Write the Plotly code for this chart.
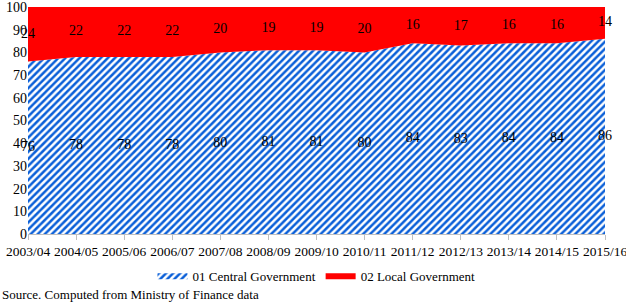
import plotly.graph_objects as go

years = ["2003/04", "2004/05", "2005/06", "2006/07", "2007/08", "2008/09", "2009/10",
         "2010/11", "2011/12", "2012/13", "2013/14", "2014/15", "2015/16"]
central = [76, 78, 78, 78, 80, 81, 81, 80, 84, 83, 84, 84, 86]
local = [24, 22, 22, 22, 20, 19, 19, 20, 16, 17, 16, 16, 14]
yticks = list(range(0, 101, 10))

FONT = "Liberation Serif"
BLUE = "#0a5fd8"
RED = "#ff0000"

fig = go.Figure()
fig.add_trace(go.Scatter(
    x=years, y=central, name="01 Central Government", stackgroup="one",
    mode="none", fillcolor=BLUE,
    fillpattern=dict(shape="/", fgcolor="white", bgcolor=BLUE, fgopacity=1,
                     fillmode="replace", size=5, solidity=0.5),
))
fig.add_trace(go.Scatter(
    x=years, y=local, name="02 Local Government", stackgroup="one",
    mode="none", fillcolor=RED,
))
# data labels at area centres
fig.add_trace(go.Scatter(
    x=years, y=[c / 2 for c in central], text=[str(v) for v in central],
    mode="text", textfont=dict(family=FONT, size=14, color="black"),
    showlegend=False, hoverinfo="skip", cliponaxis=False,
))
fig.add_trace(go.Scatter(
    x=years, y=[c + l / 2 for c, l in zip(central, local)], text=[str(v) for v in local],
    mode="text", textfont=dict(family=FONT, size=14, color="black"),
    showlegend=False, hoverinfo="skip", cliponaxis=False,
))

fig.update_layout(
    width=626, height=302,
    margin=dict(l=28, r=21, t=7, b=68, autoexpand=False),
    paper_bgcolor="white", plot_bgcolor="white",
    font=dict(family=FONT, size=13, color="black"),
    showlegend=True,
    legend=dict(orientation="h", x=0.5, xanchor="center", y=-0.12, yanchor="top",
                font=dict(family=FONT, size=13), itemwidth=30, traceorder="normal"),
    annotations=[dict(text="Source. Computed from Ministry of Finance data",
                      xref="paper", yref="paper", x=0, xanchor="left",
                      y=0, yanchor="top", yshift=-51, xshift=-28, showarrow=False,
                      font=dict(family=FONT, size=13))],
)
fig.update_xaxes(type="category", range=[0, 12], showgrid=False, showline=True,
                 linecolor="#bfbfbf", linewidth=1, ticks="outside", ticklen=5,
                 tickcolor="#bfbfbf", tickfont=dict(family=FONT, size=13.5),
                 automargin=False, ticklabeloverflow="allow")
fig.update_yaxes(range=[0, 100], tickvals=yticks, showgrid=False, showline=False,
                 zeroline=False, tickfont=dict(family=FONT, size=14), automargin=False,
                 ticklabeloverflow="allow")

fig.write_html("out.html", config={"displayModeBar": False},
               post_script="document.body.style.margin='0';document.body.style.overflow='hidden';")
